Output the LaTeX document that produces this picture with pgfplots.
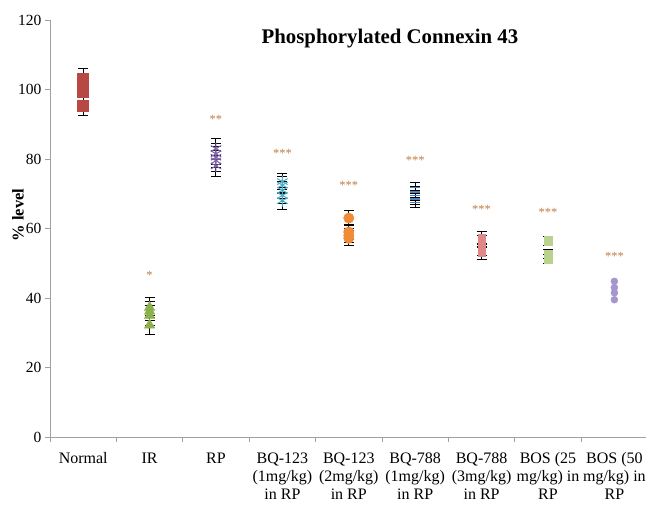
\documentclass[border=0pt]{standalone}
\usepackage{fontspec}
\setmainfont{Liberation Serif}
\usepackage{pgfplots}
\pgfplotsset{compat=1.18}
\usetikzlibrary{calc}

\definecolor{axisgray}{RGB}{160,160,160}
\definecolor{cNormal}{RGB}{184,72,68}
\definecolor{cIR}{RGB}{140,176,76}
\definecolor{cRP}{RGB}{128,100,168}
\definecolor{cBQa}{RGB}{75,172,198}
\definecolor{cBQb}{RGB}{240,140,55}
\definecolor{cBQc}{RGB}{79,129,189}
\definecolor{cBQd}{RGB}{224,136,136}
\definecolor{cBOSa}{RGB}{185,210,142}
\definecolor{cBOSb}{RGB}{165,150,205}
\definecolor{starcol}{RGB}{190,125,70}

\begin{document}
\begin{tikzpicture}
\begin{axis}[
  scale only axis,
  width=597.6pt, height=417pt,
  xmin=-0.5, xmax=8.5, ymin=0, ymax=120,
  clip=false,
  axis lines*=left,
  axis line style={draw=axisgray, line width=0.8pt},
  tick style={draw=axisgray, line width=0.8pt},
  tick align=outside,
  major tick length=5pt,
  ytick={0,20,40,60,80,100,120},
  yticklabels={0,20,40,60,80,100,120},
  xtick={-0.5,0.5,...,8.5},
  xticklabels={},
  extra x ticks={0,1,2,3,4,5,6,7,8},
  extra x tick labels={Normal,IR,RP,{BQ-123\\(1mg/kg)\\in RP},{BQ-123\\(2mg/kg)\\in RP},{BQ-788\\(1mg/kg)\\in RP},{BQ-788\\(3mg/kg)\\in RP},{BOS (25\\mg/kg) in\\RP},{BOS (50\\mg/kg) in\\RP}},
  extra x tick style={major tick length=0pt,
    xticklabel style={align=center, font=\fontsize{16}{18}\selectfont, yshift=-12pt}},
  yticklabel style={font=\fontsize{15.5}{18}\selectfont},
  error bars/error bar style={black, line width=1pt},
  error bars/error mark options={black, line width=1pt, mark size=5pt, rotate=90},
]
% Normal
\addplot[only marks, mark=square*, mark size=5.5pt, color=cNormal,
  error bars/.cd, y dir=both, y fixed=2.8]
  coordinates {(0,95.2) (0,99.5) (0,101) (0,103.1)};
% IR
\addplot[only marks, mark=triangle*, mark size=6pt, color=cIR,
  error bars/.cd, y dir=both, y fixed=2.8]
  coordinates {(1,32.2) (1,35) (1,36.2) (1,37.3)};
% RP
\addplot[only marks, mark=asterisk, mark size=6pt, line width=1pt, color=cRP,
  error bars/.cd, y dir=both, y fixed=3]
  coordinates {(2,78) (2,79.5) (2,80.5) (2,81.5) (2,83)};
% BQ-123 (1mg/kg)
\addplot[only marks, mark=asterisk, mark size=6pt, line width=1pt, color=cBQa,
  error bars/.cd, y dir=both, y fixed=2.4]
  coordinates {(3,68) (3,69.5) (3,71) (3,72.5) (3,73.5)};
% BQ-123 (2mg/kg)
\addplot[only marks, mark=*, mark size=5.2pt, color=cBQb,
  error bars/.cd, y dir=both, y fixed=2.1]
  coordinates {(4,57.2) (4,58) (4,59) (4,63)};
% BQ-788 (1mg/kg)
\addplot[only marks, mark=-, mark size=5pt, line width=1.3pt, color=cBQc,
  error bars/.cd, y dir=both, y fixed=1.5]
  coordinates {(5,67.5) (5,68.5) (5,69.5) (5,70.5) (5,71.8)};
% BQ-788 (3mg/kg)
\addplot[only marks, mark=square*, mark size=3.5pt, color=cBQd,
  error bars/.cd, y dir=both, y fixed=1.8]
  coordinates {(6,53) (6,54) (6,56.3) (6,57.3)};
% BOS (25 mg/kg)
\addplot[only marks, mark=square*, mark size=4pt, color=cBOSa,
  error bars/.cd, y dir=both, y fixed=1.3]
  coordinates {(7,51.3) (7,52.7) (7,56.3) (7,56.5)};
% BOS (50 mg/kg)
\addplot[only marks, mark=*, mark size=3.5pt, color=cBOSb]
  coordinates {(8,39.5) (8,41.5) (8,43) (8,44.8)};
% significance marks
\addplot[only marks, mark=none, nodes near coords, point meta=explicit symbolic,
  every node near coord/.style={font=\fontsize{12.5}{13}\selectfont, text=starcol, anchor=base, yshift=-7pt}]
  table[meta=s] {
x y s
1 47.3 *
2 92.2 **
3 82.4 ***
4 73.2 ***
5 80.5 ***
6 66.3 ***
7 65.6 ***
8 52.9 ***
};
\node[font=\fontsize{20.8}{24}\selectfont\bfseries, anchor=base] at (axis cs:4.62,113.3) {Phosphorylated Connexin 43};
\node[font=\fontsize{16.5}{18}\selectfont\bfseries, rotate=90] at (axis cs:-0.982,63.9) {\% level};
\end{axis}
\pgfresetboundingbox
\path[use as bounding box] ($(current axis.south west)+(-50pt,-67pt)$) rectangle ++(646pt,504pt);
\end{tikzpicture}
\end{document}
